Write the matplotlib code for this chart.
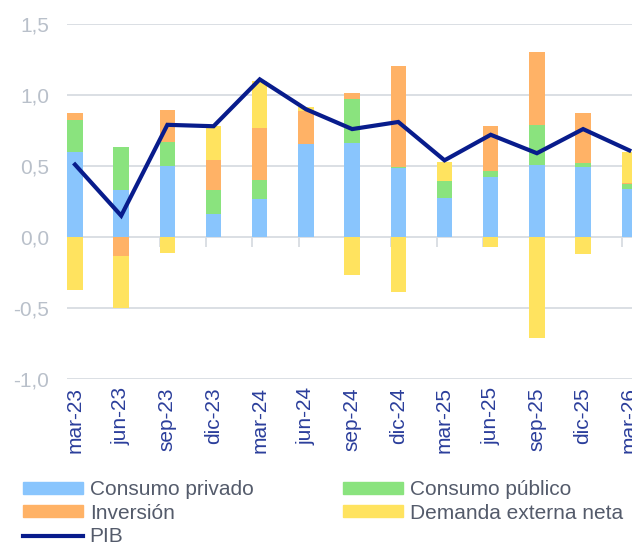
import numpy as np
import matplotlib

matplotlib.use("Agg")
import matplotlib.pyplot as plt
from matplotlib.patches import Patch
from matplotlib.lines import Line2D

periods = ["mar-23", "jun-23", "sep-23", "dic-23", "mar-24", "jun-24", "sep-24",
           "dic-24", "mar-25", "jun-25", "sep-25", "dic-25", "mar-26"]
consumo_privado = [0.60, 0.33, 0.50, 0.165, 0.27, 0.655, 0.665, 0.485, 0.275, 0.42, 0.51, 0.49, 0.335]
consumo_publico = [0.225, 0.305, 0.17, 0.165, 0.13, 0.0, 0.31, 0.007, 0.122, 0.042, 0.28, 0.031, 0.04]
inversion = [0.05, -0.137, 0.225, 0.21, 0.37, 0.23, 0.04, 0.71, 0.0, 0.322, 0.51, 0.355, 0.007]
demanda_externa = [-0.375, -0.363, -0.115, 0.245, 0.33, 0.028, -0.265, -0.386, 0.134, -0.068, -0.711, -0.12, 0.218]
pib = [0.51, 0.15, 0.79, 0.78, 1.11, 0.90, 0.76, 0.81, 0.54, 0.72, 0.59, 0.76, 0.61]

series = [
    ("Consumo privado", consumo_privado, "#89C5FD"),
    ("Consumo público", consumo_publico, "#8AE37E"),
    ("Inversión", inversion, "#FFB266"),
    ("Demanda externa neta", demanda_externa, "#FFE35F"),
]
line_color = "#081C8C"
grid_color = "#D8DCE2"

plt.rcParams["font.family"] = ["Liberation Sans", "DejaVu Sans"]

fig = plt.figure(figsize=(6.32, 5.44), dpi=100)
# plot area runs off the right edge, as in the source image
ax = fig.add_axes([67 / 632, 165 / 544, 590 / 632, 355 / 544])

x = np.arange(len(periods))
width = 0.335
pos_base = np.zeros(len(x))
neg_base = np.zeros(len(x))
for label, vals, color in series:
    vals = np.asarray(vals)
    bottom = np.where(vals >= 0, pos_base, neg_base)
    ax.bar(x, vals, width, bottom=bottom, color=color, zorder=2)
    pos_base += np.clip(vals, 0, None)
    neg_base += np.clip(vals, None, 0)

ax.plot(x, pib, color=line_color, lw=3, zorder=3, solid_joinstyle="miter")

ax.set_xlim(-0.173, 12.6)
ax.set_ylim(-1.0, 1.5)
yt = np.arange(-1.0, 1.51, 0.5)
ax.set_yticks(yt)
ax.set_yticklabels([f"{v:.1f}".replace(".", ",") for v in yt])
ax.yaxis.grid(True, color=grid_color, lw=1.3, zorder=0)
ax.tick_params(axis="y", length=0, pad=13, labelsize=15, labelcolor="#B9C0CA")

ax.set_xticks(x)
ax.set_xticklabels(periods, rotation=90, va="top", ha="center")
ax.tick_params(axis="x", length=0, pad=6, labelsize=15, labelcolor="#2B3E9B")
for s in ax.spines.values():
    s.set_visible(False)

# small tick marks hanging from the zero line
sec = ax.secondary_xaxis(0.4)
sec.set_xticks(x - 0.16)
sec.set_xticklabels([""] * len(x))
sec.tick_params(axis="x", length=7, width=1.3, color=grid_color, direction="out")
for s in sec.spines.values():
    s.set_visible(False)

handles = [
    Patch(color=series[0][2], label=series[0][0]),
    Patch(color=series[2][2], label=series[2][0]),
    Line2D([], [], color=line_color, lw=3, label="PIB"),
    Patch(color=series[1][2], label=series[1][0]),
    Patch(color=series[3][2], label=series[3][0]),
]
fig.legend(handles=handles, ncol=2, loc="upper left", bbox_to_anchor=(23 / 632, 1 - 480 / 544),
           frameon=False, fontsize=15, labelcolor="#545B6B", handlelength=2.9,
           handleheight=0.5, handletextpad=0.3, labelspacing=0.22, columnspacing=4.3,
           borderpad=0, borderaxespad=0)

fig.savefig("out.png", dpi=100)
